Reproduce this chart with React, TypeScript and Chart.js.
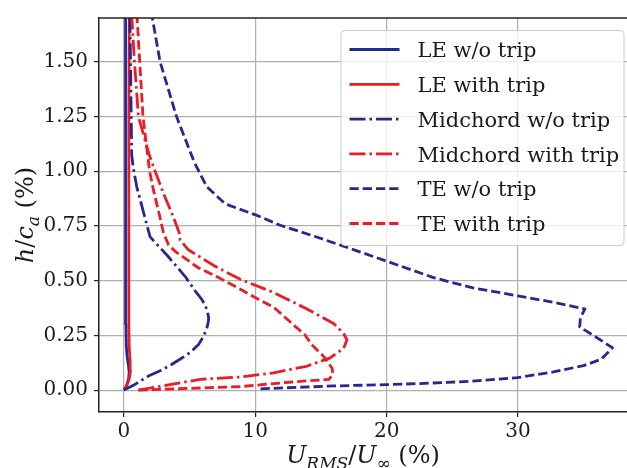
import React, { useEffect, useRef } from 'react';
import { Chart, registerables } from 'chart.js';

Chart.register(...registerables);

const BLUE = '#26288f';
const RED = '#ec1c24';

// LE w/o trip
const leNoTripU = [0.0, 0.2, 0.35, 0.4, 0.35, 0.25, 0.18, 0.15, 0.13, 0.12, 0.12, 0.12];
const leNoTripH = [0.0, 0.02, 0.05, 0.08, 0.11, 0.15, 0.2, 0.3, 0.5, 0.8, 1.2, 1.7];
// LE with trip
const leTripU = [0.0, 0.2, 0.4, 0.5, 0.47, 0.4, 0.37, 0.36, 0.37, 0.38, 0.4];
const leTripH = [0.0, 0.02, 0.05, 0.09, 0.13, 0.2, 0.3, 0.5, 0.8, 1.2, 1.7];
// Midchord w/o trip
const midNoTripU = [0.0, 0.8, 1.86, 2.8, 3.63, 4.5, 5.15, 5.7, 6.04, 6.3, 6.42, 6.45, 6.37, 6.2, 5.91, 5.4, 4.65, 3.3, 1.99, 1.5, 0.97, 0.7, 0.59, 0.55, 0.5, 0.45];
const midNoTripH = [0.0, 0.025, 0.064, 0.09, 0.117, 0.15, 0.177, 0.21, 0.244, 0.28, 0.311, 0.33, 0.356, 0.385, 0.416, 0.455, 0.52, 0.615, 0.70, 0.81, 0.93, 1.02, 1.075, 1.25, 1.5, 1.7];
// Midchord with trip
const midTripU = [1.1, 3.5, 5.8, 8.86, 11.4, 13.9, 15.7, 16.72, 16.98, 16.72, 15.96, 13.93, 11.39, 8.86, 6.93, 4.9, 4.27, 4.2, 3.76, 3.13, 2.37, 1.9, 1.1, 0.8, 0.6];
const midTripH = [0.0, 0.025, 0.049, 0.06, 0.079, 0.109, 0.147, 0.191, 0.229, 0.259, 0.304, 0.371, 0.446, 0.506, 0.566, 0.641, 0.686, 0.72, 0.791, 0.881, 1.0, 1.08, 1.25, 1.5, 1.7];
// TE w/o trip
const teNoTripU = [10.4, 15.96, 19.97, 22.56, 26.3, 29.96, 32.7, 35.0, 36.3, 37.2, 36.0, 34.7, 34.75, 35.1, 32.7, 29.96, 26.5, 23.57, 20.0, 16.6, 14.44, 11.9, 10.13, 7.7, 6.3, 5.36, 4.0, 2.75, 2.16];
const teNoTripH = [0.006, 0.019, 0.025, 0.03, 0.04, 0.057, 0.083, 0.112, 0.14, 0.193, 0.24, 0.289, 0.33, 0.371, 0.401, 0.431, 0.468, 0.514, 0.589, 0.66, 0.704, 0.753, 0.798, 0.851, 0.93, 1.04, 1.25, 1.5, 1.7];
// TE with trip
const teTripU = [1.1, 5.0, 8.86, 11.4, 13.9, 15.6, 15.9, 15.85, 15.2, 14.3, 13.8, 12.66, 11.4, 10.2, 8.86, 7.2, 5.66, 3.9, 3.4, 3.0, 2.7, 2.3, 1.95, 1.75, 1.45, 1.2, 1.0];
const teTripH = [0.0, 0.008, 0.016, 0.03, 0.042, 0.049, 0.072, 0.1, 0.154, 0.207, 0.251, 0.311, 0.379, 0.416, 0.461, 0.514, 0.559, 0.634, 0.663, 0.72, 0.8, 0.9, 1.0, 1.1, 1.25, 1.5, 1.7];

const seriesLabels = ['LE w/o trip', 'LE with trip', 'Midchord w/o trip', 'Midchord with trip', 'TE w/o trip', 'TE with trip'];
const xTicks = [0, 10, 20, 30];
const yTicks = [0, 0.25, 0.5, 0.75, 1.0, 1.25, 1.5];

const FONT = '"DejaVu Serif", serif';
const LW = 2.8;
const SOLID: number[] = [];
const DASHDOT = [16, 4, 2.5, 4];
const DASHED = [9.25, 4];

function pts(u: number[], h: number[]) {
  return u.map((v, i) => ({ x: v, y: h[i] }));
}

type Seg = { t: string; italic?: boolean; sub?: boolean };

function drawRich(ctx: CanvasRenderingContext2D, segs: Seg[], size: number) {
  const fontFor = (s: Seg) => `${s.italic ? 'italic ' : ''}${s.sub ? Math.round(size * 0.7) : size}px ${FONT}`;
  let total = 0;
  const widths = segs.map((s) => {
    ctx.font = fontFor(s);
    const w = ctx.measureText(s.t).width;
    total += w;
    return w;
  });
  let x = -total / 2;
  ctx.textBaseline = 'alphabetic';
  ctx.textAlign = 'left';
  segs.forEach((s, i) => {
    ctx.font = fontFor(s);
    ctx.fillText(s.t, x, s.sub ? size * 0.25 : 0);
    x += widths[i];
  });
}

const decorPlugin = {
  id: 'decor',
  beforeDraw(chart: any) {
    const ctx = chart.ctx;
    ctx.save();
    ctx.fillStyle = '#ffffff';
    ctx.fillRect(0, 0, chart.width, chart.height);
    ctx.restore();
  },
  afterDatasetsDraw(chart: any) {
    const ctx: CanvasRenderingContext2D = chart.ctx;
    const ca = chart.chartArea;
    const x0 = ca.right - 286;
    const y0 = ca.top + 12.5;
    const w = 283;
    const h = 215;
    ctx.save();
    ctx.beginPath();
    (ctx as any).roundRect(x0, y0, w, h, 4);
    ctx.fillStyle = 'rgba(255,255,255,0.8)';
    ctx.fill();
    ctx.lineWidth = 1;
    ctx.strokeStyle = '#cccccc';
    ctx.stroke();
    chart.data.datasets.forEach((ds: any, i: number) => {
      const cy = y0 + 19 + i * 34.8;
      ctx.beginPath();
      ctx.setLineDash(ds.borderDash || []);
      ctx.lineCap = 'butt';
      ctx.strokeStyle = ds.borderColor;
      ctx.lineWidth = ds.borderWidth;
      ctx.moveTo(x0 + 8.5, cy);
      ctx.lineTo(x0 + 58.5, cy);
      ctx.stroke();
      ctx.setLineDash([]);
      ctx.fillStyle = '#1a1a1a';
      ctx.font = `21px ${FONT}`;
      ctx.textBaseline = 'alphabetic';
      ctx.textAlign = 'left';
      ctx.fillText(ds.label, x0 + 76.5, cy + 7.7);
    });
    ctx.restore();
  },
  afterDraw(chart: any) {
    const ctx: CanvasRenderingContext2D = chart.ctx;
    const ca = chart.chartArea;
    ctx.save();
    // top spine
    ctx.strokeStyle = '#222222';
    ctx.lineWidth = 1.5;
    ctx.beginPath();
    ctx.moveTo(ca.left, ca.top);
    ctx.lineTo(ca.right, ca.top);
    ctx.stroke();
    ctx.fillStyle = '#1a1a1a';
    // x title
    ctx.save();
    ctx.translate((ca.left + ca.right) / 2, 462.5);
    drawRich(ctx, [
      { t: 'U', italic: true },
      { t: 'RMS', italic: true, sub: true },
      { t: '/' },
      { t: 'U', italic: true },
      { t: '\u221E', sub: true },
      { t: ' (%)' },
    ], 24);
    ctx.restore();
    // y title
    ctx.save();
    ctx.translate(33, (ca.top + ca.bottom) / 2);
    ctx.rotate(-Math.PI / 2);
    drawRich(ctx, [
      { t: 'h', italic: true },
      { t: '/' },
      { t: 'c', italic: true },
      { t: 'a', italic: true, sub: true },
      { t: ' (%)' },
    ], 24);
    ctx.restore();
    ctx.restore();
  },
};

export default function App() {
  const ref = useRef<HTMLCanvasElement | null>(null);
  useEffect(() => {
    if (!ref.current) return;
    const styles = [
      { c: BLUE, d: SOLID, u: leNoTripU, h: leNoTripH },
      { c: RED, d: SOLID, u: leTripU, h: leTripH },
      { c: BLUE, d: DASHDOT, u: midNoTripU, h: midNoTripH },
      { c: RED, d: DASHDOT, u: midTripU, h: midTripH },
      { c: BLUE, d: DASHED, u: teNoTripU, h: teNoTripH },
      { c: RED, d: DASHED, u: teTripU, h: teTripH },
    ];
    const datasets = styles.map((s, i) => ({
      label: seriesLabels[i],
      data: pts(s.u, s.h),
      borderColor: s.c,
      backgroundColor: s.c,
      borderWidth: LW,
      borderDash: s.d,
      borderCapStyle: 'butt',
      borderJoinStyle: 'round',
      pointRadius: 0,
      pointHoverRadius: 0,
      tension: 0,
      fill: false,
      order: 5 - i,
    }));
    const tickFont = { family: FONT, size: 20 };
    const chart = new Chart(ref.current, {
      type: 'line',
      data: { datasets } as any,
      plugins: [decorPlugin],
      options: {
        responsive: false,
        animation: false,
        devicePixelRatio: 1,
        layout: { padding: { top: 11, right: 0, bottom: 0, left: 0 } },
        plugins: { legend: { display: false }, tooltip: { enabled: false } },
        scales: {
          x: {
            type: 'linear',
            min: -1.9,
            max: 38.3,
            afterBuildTicks: (s: any) => { s.ticks = xTicks.map((v) => ({ value: v })); },
            afterFit: (s: any) => { s.height = 56; },
            grid: { color: '#b0b0b0', lineWidth: 1.2, tickLength: 5, tickColor: '#222222', drawTicks: true },
            border: { color: '#222222', width: 1.5 },
            ticks: { font: tickFont, color: '#1a1a1a', padding: 3, maxRotation: 0, autoSkip: false, callback: (v: any) => String(v) },
          },
          y: {
            type: 'linear',
            min: -0.1,
            max: 1.7,
            afterBuildTicks: (s: any) => { s.ticks = yTicks.map((v) => ({ value: v })); },
            afterFit: (s: any) => { s.width = 99; },
            grid: { color: '#b0b0b0', lineWidth: 1.2, tickLength: 5, tickColor: '#222222', drawTicks: true },
            border: { color: '#222222', width: 1.5 },
            ticks: { font: tickFont, color: '#1a1a1a', padding: 6, autoSkip: false, callback: (v: any) => Number(v).toFixed(2) },
          },
        },
      } as any,
    });
    return () => chart.destroy();
  }, []);
  return (
    <div style={{ position: 'absolute', left: 0, top: 0, width: 627, height: 468, background: '#fff' }}>
      <canvas ref={ref} width={627} height={468} style={{ display: 'block', width: 627, height: 468 }} />
    </div>
  );
}
